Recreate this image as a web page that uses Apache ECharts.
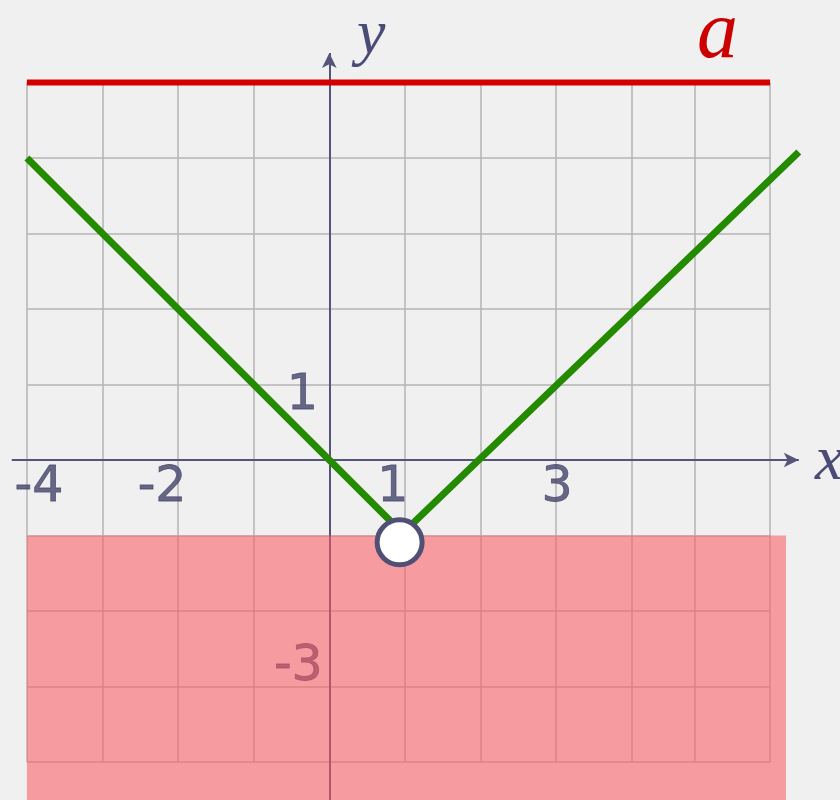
<!DOCTYPE html>
<html>
<head>
<meta charset="utf-8">
<script src="https://cdn.jsdelivr.net/npm/echarts@6/dist/echarts.min.js"></script>
<style>
  html, body { margin: 0; padding: 0; background: #f0f0f0; }
  #chart { width: 840px; height: 800px; }
</style>
</head>
<body>
<div id="chart"></div>
<script>
// graph paper lines (data units)
var gridXs = [-4, -3, -2, -1, 0, 1, 2, 3, 4, 4.84, 5.83];
var gridYs = [-4, -3, -2, -1, 0, 1, 2, 3, 4, 5];
// y = |x - 1| - 1 as drawn
var greenPts = [[-4, 4], [0.97, -0.97], [6.21, 4.08]];
// level a
var aLevel = 5;
var aFrom = -4, aTo = 5.83;
// hole at the vertex
var holePt = [0.93, -1.09];
// shaded region: y < -1
var shadeTop = -1, shadeRight = 6.04;
// tick labels
var xTicks = [-4, -2, 1, 3];
var yTicks = [1, -3];

var chart = echarts.init(document.getElementById('chart'));

var xMin = -4.356, xMax = 6.755;
var yMin = -4.503, yMax = 6.093;

var gridColor = '#b4b4b4';
var axisColor = '#555579';
var labelFont = 'DejaVu Sans';

var xNudge = { '-4': [12, 28], '-2': [-16, 28], '1': [-12, 28], '3': [1, 28] };
var yNudge = { '1': [-27, 12], '-3': [-31, -19] };

var paperLines = [];
gridXs.forEach(function (x) {
    paperLines.push([{ coord: [x, gridYs[0]] }, { coord: [x, gridYs[gridYs.length - 1]] }]);
});
gridYs.forEach(function (y) {
    paperLines.push([{ coord: [gridXs[0], y] }, { coord: [gridXs[gridXs.length - 1], y] }]);
});

var tickData = [];
xTicks.forEach(function (v) {
    tickData.push({ value: [v, 0], label: { formatter: String(v), offset: xNudge[String(v)] } });
});
yTicks.forEach(function (v) {
    tickData.push({ value: [0, v], label: { formatter: String(v), offset: yNudge[String(v)] } });
});

var option = {
    backgroundColor: '#f0f0f0',
    animation: false,
    grid: { left: 0, right: 0, top: 0, bottom: 0 },
    xAxis: { type: 'value', min: xMin, max: xMax, show: false },
    yAxis: { type: 'value', min: yMin, max: yMax, show: false },
    graphic: [
        { type: 'text', left: 357, top: 4, z: 10,
          style: { text: 'y', font: 'italic 64px "Liberation Serif"', fill: '#4b4b78' } },
        { type: 'text', left: 815, top: 430, z: 10,
          style: { text: 'x', font: 'italic 64px "Liberation Serif"', fill: '#4b4b78' } },
        { type: 'text', left: 697, top: -6, z: 10,
          style: { text: 'a', font: 'italic 82px "Liberation Serif"', fill: '#cc0000' } }
    ],
    series: [
        {
            name: 'paper',
            type: 'line',
            data: [],
            z: 1,
            silent: true,
            markLine: {
                silent: true,
                z: 1,
                symbol: ['none', 'none'],
                label: { show: false },
                lineStyle: { color: gridColor, width: 1.5, type: 'solid' },
                data: paperLines
            }
        },
        {
            name: 'axes',
            type: 'line',
            data: [],
            z: 2,
            silent: true,
            markLine: {
                silent: true,
                z: 2,
                symbol: ['none', 'arrow'],
                symbolSize: [11, 15],
                label: { show: false },
                lineStyle: { color: axisColor, width: 2, type: 'solid' },
                data: [
                    [{ coord: [-4.2, 0] }, { coord: [6.21, 0] }],
                    [{ coord: [0, yMin] }, { coord: [0, 5.39] }]
                ]
            }
        },
        {
            name: 'ticks',
            type: 'scatter',
            z: 2,
            symbolSize: 0,
            silent: true,
            label: {
                show: true,
                position: 'inside',
                fontFamily: labelFont,
                fontSize: 49,
                color: '#44446a',
                textBorderColor: '#44446a',
                textBorderWidth: 0.8
            },
            data: tickData
        },
        {
            name: 'shade',
            type: 'line',
            data: [],
            z: 3,
            silent: true,
            markArea: {
                silent: true,
                z: 3,
                itemStyle: { color: 'rgba(252, 90, 96, 0.56)' },
                data: [[{ coord: [gridXs[0], shadeTop] }, { coord: [shadeRight, yMin] }]]
            }
        },
        {
            name: 'a',
            type: 'line',
            z: 4,
            showSymbol: false,
            lineStyle: { color: '#d40000', width: 6 },
            data: [[aFrom, aLevel], [aTo, aLevel]]
        },
        {
            name: 'f',
            type: 'line',
            z: 5,
            showSymbol: false,
            lineStyle: { color: '#248a00', width: 7, cap: 'butt' },
            data: greenPts
        },
        {
            name: 'hole',
            type: 'scatter',
            z: 6,
            symbol: 'circle',
            symbolSize: 45,
            itemStyle: { color: '#ffffff', borderColor: '#505075', borderWidth: 5, opacity: 1 },
            data: [holePt]
        }
    ]
};

chart.setOption(option);
</script>
</body>
</html>
